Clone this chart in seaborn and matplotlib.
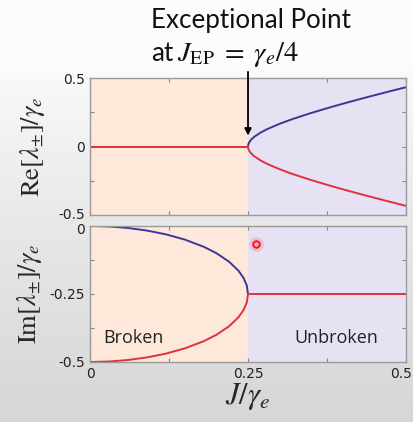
import numpy as np
import pandas as pd
import matplotlib
matplotlib.use("Agg")
import matplotlib.pyplot as plt
import matplotlib.transforms as mtransforms
import seaborn as sns

sns.set_style("ticks")
plt.rcParams["font.family"] = ["DejaVu Sans"]
plt.rcParams["mathtext.fontset"] = "stix"

# Coupling J / gamma_e for the PT-broken side (below the exceptional point)
j_broken = [0.0, 0.03, 0.06, 0.09, 0.12, 0.15, 0.18, 0.20, 0.22, 0.235, 0.243, 0.248, 0.25]
# Imaginary parts of the two eigenvalues in the broken phase
im_upper = [0.0, -0.0018, -0.0073, -0.0168, -0.0307, -0.05, -0.0765, -0.10, -0.1313,
            -0.1647, -0.1913, -0.2184, -0.25]
im_lower = [-0.5, -0.4982, -0.4927, -0.4832, -0.4693, -0.45, -0.4235, -0.40, -0.3687,
            -0.3353, -0.3087, -0.2816, -0.25]
re_broken = [0.0] * len(j_broken)

# Coupling for the unbroken side (above the exceptional point)
j_unbroken = [0.25, 0.2505, 0.252, 0.255, 0.26, 0.27, 0.28, 0.30, 0.32, 0.35, 0.38,
              0.41, 0.44, 0.47, 0.50]
re_upper = [0.0, 0.0158, 0.0317, 0.0503, 0.0714, 0.1020, 0.1261, 0.1658, 0.1998, 0.2449,
            0.2862, 0.3250, 0.3621, 0.3980, 0.4330]
re_lower = [-v for v in re_upper]
im_unbroken = [-0.25] * len(j_unbroken)

j_ep = 0.25
highlight_xy = (0.263, -0.066)

x_ticklabels = ["0", "", "0.25", "", "0.5"]
re_ticklabels = ["-0.5", "", "0", "", "0.5"]
im_ticklabels = ["-0.5", "", "-0.25", "", "0"]

RED = "#e2313c"
BLUE = "#3a3896"
PEACH = "#fde8da"
LAVENDER = "#e6e2f3"

fig = plt.figure(figsize=(4.14, 4.22), dpi=100)

# soft grey backdrop
bg = fig.add_axes([0, 0, 1, 1], zorder=-10)
grad = np.linspace(0, 1, 256)[:, None]
top_c = np.array([0.99, 0.99, 0.99])
bot_c = np.array([0.84, 0.84, 0.84])
w = np.clip((grad - 0.15) / 0.85, 0, 1) ** 0.8
bg_col = (top_c[None, :] * (1 - w) + bot_c[None, :] * w)[:, None, :]
bg.imshow(bg_col, aspect="auto", extent=[0, 1, 0, 1], origin="upper")
bg.set_axis_off()

ax1 = fig.add_axes([0.2174, 0.4905, 0.7633, 0.3246])
ax2 = fig.add_axes([0.2174, 0.1422, 0.7633, 0.3223])

for ax in (ax1, ax2):
    ax.axvspan(0, j_ep, color=PEACH, zorder=0, lw=0)
    ax.axvspan(j_ep, 0.5, color=LAVENDER, zorder=0, lw=0)
    ax.set_xlim(0, 0.5)
    ax.set_xticks(np.arange(0, 0.5001, 0.125))
    ax.tick_params(direction="in", length=3, width=0.8, color="#888888",
                   top=True, right=True, labelsize=10, labelcolor="#222222")
    for s in ax.spines.values():
        s.set_color("#9a9a9a")
        s.set_linewidth(1.0)

# Real parts
df_re = pd.DataFrame({
    "J": j_unbroken + j_unbroken + j_broken,
    "val": re_upper + re_lower + re_broken,
    "branch": ["up"] * len(j_unbroken) + ["low"] * len(j_unbroken) + ["flat"] * len(j_broken),
})
sns.lineplot(data=df_re[df_re.branch == "up"], x="J", y="val", ax=ax1, color=BLUE,
             lw=1.4, sort=False, estimator=None)
sns.lineplot(data=df_re[df_re.branch != "up"], x="J", y="val", units="branch", ax=ax1,
             color=RED, lw=1.4, sort=False, estimator=None)
ax1.set_ylim(-0.5, 0.5)
ax1.set_yticks([-0.5, -0.25, 0, 0.25, 0.5])
ax1.set_yticklabels(re_ticklabels)
ax1.set_xticklabels([])
ax1.set_xlabel("")
ax1.set_ylabel(r"$\mathrm{Re}[\lambda_{\pm}]/\gamma_e$", fontsize=19, labelpad=8)

# Imaginary parts
df_im = pd.DataFrame({
    "J": j_broken + j_broken + j_unbroken,
    "val": im_upper + im_lower + im_unbroken,
    "branch": ["up"] * len(j_broken) + ["low"] * len(j_broken) + ["flat"] * len(j_unbroken),
})
sns.lineplot(data=df_im[df_im.branch == "up"], x="J", y="val", ax=ax2, color=BLUE,
             lw=1.4, sort=False, estimator=None)
sns.lineplot(data=df_im[df_im.branch != "up"], x="J", y="val", units="branch", ax=ax2,
             color=RED, lw=1.4, sort=False, estimator=None)
ax2.set_ylim(-0.5, 0.0)
ax2.set_yticks([-0.5, -0.375, -0.25, -0.125, 0])
ax2.set_yticklabels(im_ticklabels)
ax2.set_xticklabels(x_ticklabels)
ax2.set_ylabel(r"$\mathrm{Im}[\lambda_{\pm}]/\gamma_e$", fontsize=19, labelpad=4)
ax2.set_xlabel(r"$J/\gamma_e$", fontsize=22, labelpad=0)

# nudge crowded tick labels apart
def nudge(label, dx_px, dy_px):
    label.set_transform(label.get_transform() +
                        mtransforms.ScaledTranslation(dx_px / 100, dy_px / 100, fig.dpi_scale_trans))

nudge(ax1.get_yticklabels()[0], 0, 2)
nudge(ax2.get_yticklabels()[-1], 0, -3)
nudge(ax2.get_xticklabels()[-1], -5, 0)

ax2.text(0.021, -0.41, "Broken", fontsize=13, family="Open Sans", color="#222222", va="center")
ax2.text(0.324, -0.41, "Unbroken", fontsize=13, family="Open Sans", color="#222222", va="center")

# highlight marker
ax2.scatter([highlight_xy[0]], [highlight_xy[1]], s=110, color=RED, alpha=0.18, lw=0, zorder=5)
ax2.scatter([highlight_xy[0]], [highlight_xy[1]], s=22, facecolor="#ffb0b0",
            edgecolor="#ff1020", lw=1.4, zorder=6)

# exceptional point annotation
ax1.annotate("", xy=(j_ep, 0.08), xytext=(j_ep, 0.545), xycoords="data",
             arrowprops=dict(arrowstyle="-|>", color="black", lw=1.3,
                             mutation_scale=10, shrinkA=0, shrinkB=0),
             annotation_clip=False)
fig.text(0.365, 0.952, "Exceptional Point", ha="left", va="center",
         fontsize=18.7, family="Lato", color="#111111")
fig.text(0.365, 0.874, "at", ha="left", va="center",
         fontsize=18.7, family="Lato", color="#111111")
fig.text(0.428, 0.872, r"$J_{\mathrm{EP}}\;=\;\gamma_e/4$", ha="left", va="center",
         fontsize=20.5, color="#111111")

fig.savefig("out.png", dpi=100)
